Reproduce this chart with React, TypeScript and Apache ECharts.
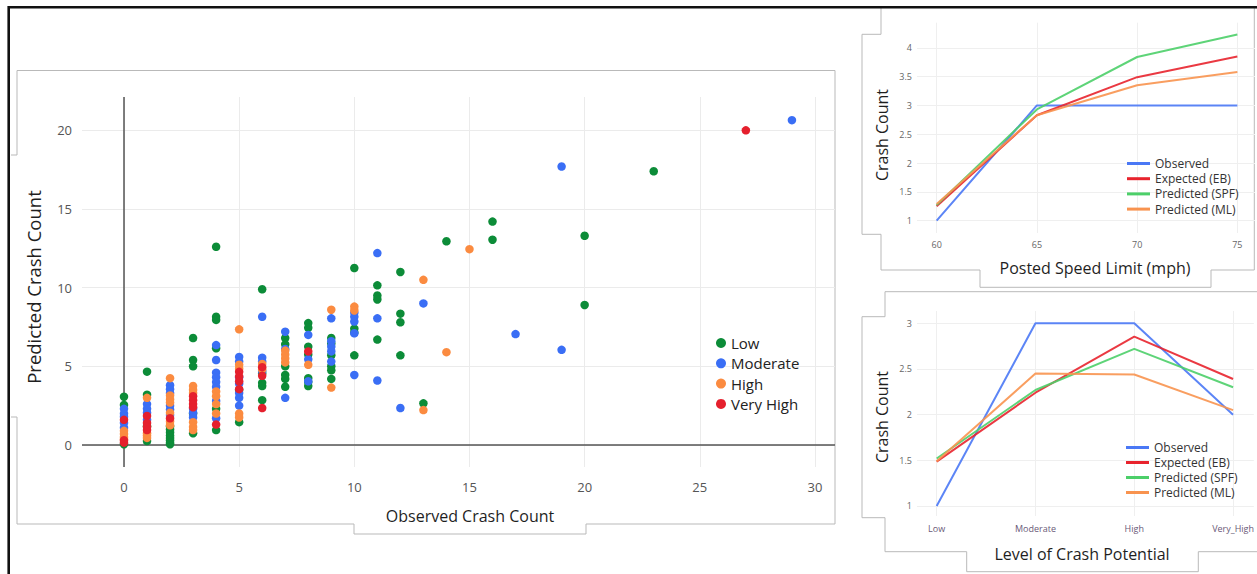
import React, { useEffect, useRef } from 'react';
import * as echarts from 'echarts';

const FONT = '"Open Sans", "Noto Sans", sans-serif';

// ---------- Scatter: observed vs predicted ----------
const potentialLevels = ['Low', 'Moderate', 'High', 'Very High'];
const levelColors = ['#0c8c38', '#3a6ef5', '#fb8b40', '#e5202d'];

const lowPoints = [
  [0, 3.07], [0, 2.55], [0, 0.05],
  [1, 4.66], [1, 3.2], [1, 1.2], [1, 0.25],
  [2, 1.2], [2, 1.0], [2, 0.8], [2, 0.6], [2, 0.45], [2, 0.3], [2, 0.15], [2, 0.05],
  [3, 6.8], [3, 5.4], [3, 5.0], [3, 2.0], [3, 0.75],
  [4, 12.6], [4, 8.15], [4, 7.95], [4, 6.15], [4, 2.3], [4, 0.95],
  [5, 3.5], [5, 1.45],
  [6, 9.9], [6, 4.55], [6, 3.95], [6, 3.75], [6, 2.85],
  [7, 6.8], [7, 6.4], [7, 5.0], [7, 4.45], [7, 4.2], [7, 3.7],
  [8, 7.75], [8, 7.45], [8, 6.25], [8, 5.75], [8, 4.25], [8, 4.0], [8, 3.75],
  [9, 6.8], [9, 6.45], [9, 5.7], [9, 5.0], [9, 4.75], [9, 4.2],
  [10, 11.25], [10, 7.4], [10, 7.15], [10, 5.7],
  [11, 10.15], [11, 9.5], [11, 9.25], [11, 6.7],
  [12, 11.0], [12, 8.35], [12, 7.8], [12, 5.7],
  [13, 2.65], [14, 12.95], [16, 14.2], [16, 13.05],
  [20, 13.3], [20, 8.9], [23, 17.4],
];
const moderatePoints = [
  [0, 2.3], [0, 2.0], [0, 1.8], [0, 1.4], [0, 1.1],
  [1, 2.6], [1, 2.3], [1, 2.05], [1, 1.6],
  [2, 3.8], [2, 3.55], [2, 3.3], [2, 2.5], [2, 2.25], [2, 1.9],
  [3, 2.3], [3, 2.05], [3, 1.75],
  [4, 6.35], [4, 5.4], [4, 4.6], [4, 4.3], [4, 4.0], [4, 3.7], [4, 2.8], [4, 1.7],
  [5, 5.6], [5, 5.3], [5, 4.3], [5, 3.9], [5, 3.3], [5, 3.0], [5, 2.5],
  [6, 8.15], [6, 5.55], [6, 5.3], [6, 4.7],
  [7, 7.2], [7, 6.1], [7, 3.0],
  [8, 7.0], [8, 5.45], [8, 4.05],
  [9, 8.05], [9, 6.6], [9, 6.25], [9, 5.95], [9, 5.3],
  [10, 8.4], [10, 8.15], [10, 7.85], [10, 7.1], [10, 4.45],
  [11, 12.2], [11, 8.05], [11, 4.1],
  [12, 2.35], [13, 9.0], [17, 7.05], [19, 17.7], [19, 6.05], [29, 20.65],
];
const highPoints = [
  [0, 0.9], [0, 0.7], [0, 0.5], [0, 0.35],
  [1, 3.0], [1, 0.75], [1, 0.6], [1, 0.45],
  [2, 4.25], [2, 3.15], [2, 2.9], [2, 2.7], [2, 2.05], [2, 1.5], [2, 1.25],
  [3, 3.75], [3, 3.5], [3, 3.3], [3, 1.45], [3, 1.15], [3, 0.95],
  [4, 3.4], [4, 3.1], [4, 2.6], [4, 2.0],
  [5, 7.35], [5, 5.1], [5, 4.85], [5, 2.0], [5, 1.75],
  [6, 5.15], [6, 4.8],
  [7, 6.0], [7, 5.75], [7, 5.5], [7, 5.25],
  [8, 5.1], [9, 8.6], [9, 3.65], [10, 8.8], [10, 8.55],
  [13, 10.5], [13, 2.22], [14, 5.9], [15, 12.45],
];
const veryHighPoints = [
  [0, 1.6], [0, 0.3], [0, 0.15],
  [1, 1.85], [1, 1.4], [1, 1.15], [1, 0.95],
  [2, 1.7],
  [3, 3.1], [3, 2.85], [3, 2.6], [3, 2.4],
  [4, 1.3],
  [5, 4.65], [5, 4.35], [5, 4.05], [5, 3.55],
  [6, 4.95], [6, 4.4], [6, 2.35],
  [8, 5.95], [27, 20.0],
];
const scatterSets = [lowPoints, moderatePoints, highPoints, veryHighPoints];
const scatterXTicks = [0, 5, 10, 15, 20, 25, 30];
const scatterYTicks = [0, 5, 10, 15, 20];

// ---------- Line charts ----------
const lineNames = ['Observed', 'Expected (EB)', 'Predicted (SPF)', 'Predicted (ML)'];
const lineColors = ['#4a78f5', '#e8232d', '#4ccf69', '#f8934f'];

const speedLimits = [60, 65, 70, 75];
const speedObserved = [1.0, 3.0, 3.0, 3.0];
const speedEB = [1.25, 2.83, 3.49, 3.85];
const speedSPF = [1.27, 2.93, 3.84, 4.23];
const speedML = [1.29, 2.83, 3.35, 3.58];
const speedYTicks = [1, 1.5, 2, 2.5, 3, 3.5, 4];

const crashLevels = ['Low', 'Moderate', 'High', 'Very_High'];
const levelObserved = [1.0, 3.0, 3.0, 2.0];
const levelEB = [1.485, 2.24, 2.855, 2.39];
const levelSPF = [1.52, 2.27, 2.72, 2.3];
const levelML = [1.49, 2.45, 2.44, 2.05];
const levelYTicks = [1, 1.5, 2, 2.5, 3];
const levelXTicks = [0, 1, 2, 3];

const frameColor = '#b9b9b9';

function poly(points: number[][], color = frameColor, width = 1) {
  return {
    type: 'polyline',
    silent: true,
    shape: { points },
    style: { stroke: color, lineWidth: width, fill: null },
  };
}

function title(text: string, x: number, y: number, size: number, rotate = 0) {
  return {
    type: 'text',
    x,
    y,
    rotation: rotate,
    silent: true,
    style: {
      text,
      fontSize: size,
      fontFamily: FONT,
      fill: '#1f1f1f',
      align: 'center',
      verticalAlign: 'middle',
    },
  };
}

export default function App() {
  const ref = useRef<HTMLDivElement>(null);

  useEffect(() => {
    if (!ref.current) return;
    const chart = echarts.init(ref.current, null, { renderer: 'svg' });

    const smallAxisLabel = { color: '#666', fontSize: 9, fontFamily: FONT };
    const smallSplit = { show: true, lineStyle: { color: '#efefef', width: 1 } };

    const lineSets1 = [speedObserved, speedEB, speedSPF, speedML];
    const lineSets2 = [levelObserved, levelEB, levelSPF, levelML];

    const series: any[] = [];
    scatterSets.forEach((pts, i) => {
      const s: any = {
        name: potentialLevels[i],
        type: 'scatter',
        xAxisIndex: 0,
        yAxisIndex: 0,
        symbol: 'circle',
        symbolSize: 8.5,
        itemStyle: { color: levelColors[i], opacity: 1 },
        data: pts,
        silent: true,
      };
      if (i === 0) {
        s.markLine = {
          silent: true,
          z: 1,
          symbol: ['none', 'none'],
          label: { show: false },
          lineStyle: { color: '#555', width: 1.5, type: 'solid' },
          data: [{ xAxis: 0 }, { yAxis: 0 }],
        };
      }
      series.push(s);
    });
    lineSets1.forEach((vals, i) => {
      series.push({
        name: lineNames[i],
        type: 'line',
        xAxisIndex: 1,
        yAxisIndex: 1,
        symbol: 'none',
        silent: true,
        lineStyle: { color: lineColors[i], width: 2, opacity: 0.9 },
        itemStyle: { color: lineColors[i] },
        data: speedLimits.map((s, k) => [s, vals[k]]),
      });
    });
    lineSets2.forEach((vals, i) => {
      series.push({
        name: lineNames[i],
        type: 'line',
        xAxisIndex: 2,
        yAxisIndex: 2,
        symbol: 'none',
        silent: true,
        lineStyle: { color: lineColors[i], width: 2, opacity: 0.9 },
        itemStyle: { color: lineColors[i] },
        data: crashLevels.map((_, k) => [k, vals[k]]),
      });
    });

    const option: any = {
      animation: false,
      backgroundColor: '#ffffff',
      textStyle: { fontFamily: FONT },
      grid: [
        { left: 82, top: 97, width: 753, height: 370 },
        { left: 917, top: 22.7, width: 338, height: 210.3 },
        { left: 917, top: 311, width: 338, height: 205 },
      ],
      xAxis: [
        {
          gridIndex: 0, type: 'value', min: -1.823, max: 30.87,
          axisLine: { show: false },
          axisTick: { show: false, customValues: scatterXTicks },
          axisLabel: { customValues: scatterXTicks, color: '#555', fontSize: 13, margin: 13, fontFamily: FONT },
          splitLine: { show: true, lineStyle: { color: '#ebebeb' } },
        },
        {
          gridIndex: 1, type: 'value', min: 59.02, max: 75.88,
          axisLine: { show: false },
          axisTick: { show: false, customValues: speedLimits },
          axisLabel: { ...smallAxisLabel, customValues: speedLimits, margin: 7 },
          splitLine: smallSplit,
        },
        {
          gridIndex: 2, type: 'value', min: -0.199, max: 3.21,
          axisLine: { show: false },
          axisTick: { show: false, customValues: levelXTicks },
          axisLabel: {
            ...smallAxisLabel, color: '#6a5a78', customValues: levelXTicks, margin: 8,
            formatter: (v: number) => crashLevels[Math.round(v)] ?? '',
          },
          splitLine: smallSplit,
        },
      ],
      yAxis: [
        {
          gridIndex: 0, type: 'value', min: -1.398, max: 22.12,
          axisLine: { show: false },
          axisTick: { show: false, customValues: scatterYTicks },
          axisLabel: { customValues: scatterYTicks, color: '#555', fontSize: 13, margin: 10, fontFamily: FONT },
          splitLine: { show: true, lineStyle: { color: '#ebebeb' } },
        },
        {
          gridIndex: 1, type: 'value', min: 0.786, max: 4.435,
          axisLine: { show: false },
          axisTick: { show: false, customValues: speedYTicks },
          axisLabel: { ...smallAxisLabel, customValues: speedYTicks, margin: 5 },
          splitLine: smallSplit,
        },
        {
          gridIndex: 2, type: 'value', min: 0.89, max: 3.135,
          axisLine: { show: false },
          axisTick: { show: false, customValues: levelYTicks },
          axisLabel: { ...smallAxisLabel, customValues: levelYTicks, margin: 5 },
          splitLine: smallSplit,
        },
      ],
      legend: [
        {
          data: potentialLevels, orient: 'vertical', left: 716, top: 335, padding: 0,
          icon: 'circle', itemWidth: 10, itemHeight: 10, itemGap: 4.3, selectedMode: false,
          textStyle: { fontSize: 15, lineHeight: 16, color: '#222', fontFamily: FONT },
        },
        {
          data: lineNames, orient: 'vertical', left: 1127, top: 157, padding: 0,
          icon: 'rect', itemWidth: 23, itemHeight: 3, itemGap: 2.2, selectedMode: false,
          textStyle: { fontSize: 12, lineHeight: 13, color: '#333', fontFamily: FONT },
        },
        {
          data: lineNames, orient: 'vertical', left: 1126, top: 441, padding: 0,
          icon: 'rect', itemWidth: 23, itemHeight: 3, itemGap: 2, selectedMode: false,
          textStyle: { fontSize: 12, lineHeight: 13, color: '#333', fontFamily: FONT },
        },
      ],
      graphic: [
        // screenshot frames
        poly([[17, 155], [17, 70.5], [835, 70.5], [835, 524], [586, 524], [586, 534], [354, 534], [354, 524], [17, 524], [17, 417], [11, 417]]),
        poly([[11, 155], [17, 155]]),
        poly([[881, 8], [881, 34.3], [862, 34.3], [862, 234.3], [881, 234.3], [881, 270], [980, 270], [980, 287.3], [1211, 287.3], [1211, 270], [1254.3, 270], [1254.3, 8]]),
        poly([[1257, 291.7], [885, 291.7], [885, 316.7], [862, 316.7], [862, 517.7], [885, 517.7], [885, 551.7], [966.7, 551.7], [966.7, 571.7], [1198.3, 571.7], [1198.3, 551.7], [1257, 551.7]]),
        // outer black border
        poly([[8.7, 574], [8.7, 7.3], [1257, 7.3]], '#111', 2.6),
        // axis titles
        title('Predicted Crash Count', 33, 287, 18.5, Math.PI / 2),
        title('Observed Crash Count', 470, 516, 16),
        title('Crash Count', 882, 135, 16, Math.PI / 2),
        title('Posted Speed Limit (mph)', 1095, 268, 16),
        title('Crash Count', 882, 417, 16, Math.PI / 2),
        title('Level of Crash Potential', 1082, 554, 16),
      ],
      series,
    };

    chart.setOption(option);
    return () => chart.dispose();
  }, []);

  return (
    <div
      ref={ref}
      style={{ position: 'fixed', left: 0, top: 0, width: 1257, height: 574, background: '#fff' }}
    />
  );
}
